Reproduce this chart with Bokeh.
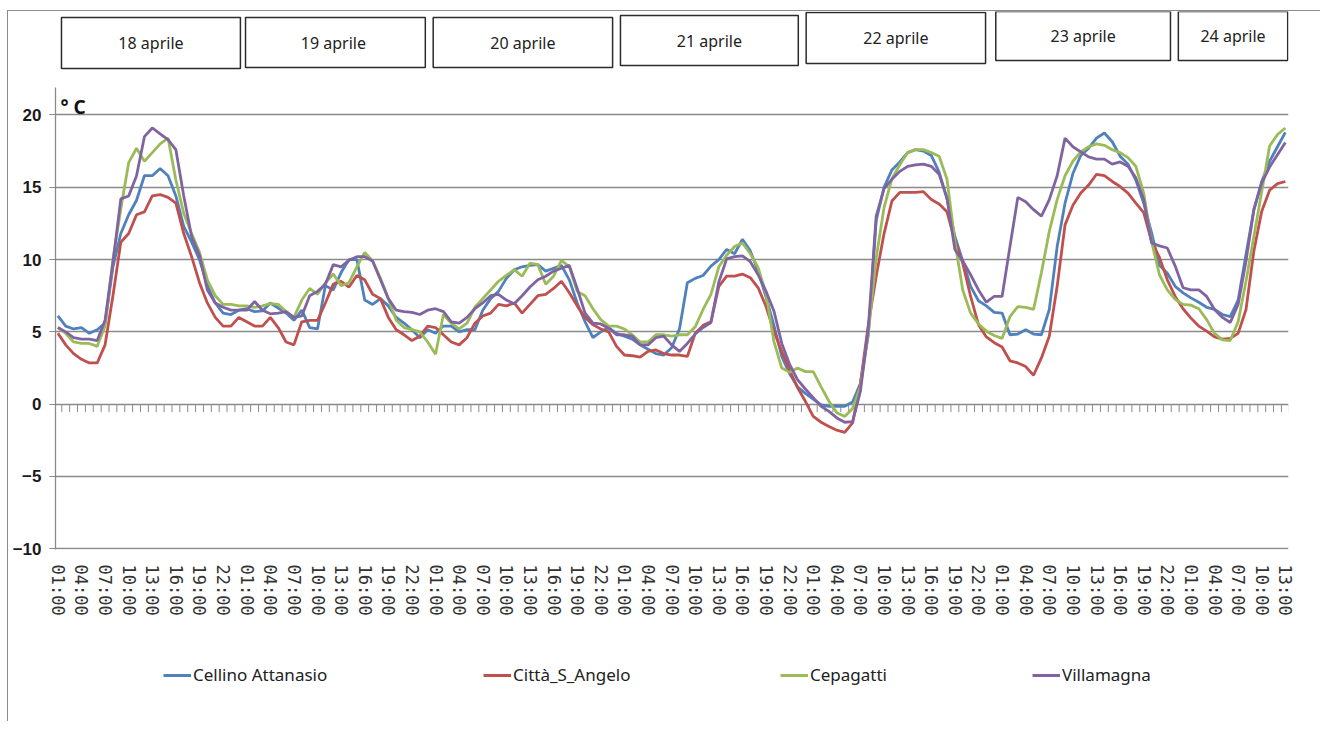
from bokeh.plotting import figure
from bokeh.models import Range1d, FixedTicker, Legend, LegendItem, Label, ColumnDataSource
from bokeh.layouts import column
from bokeh.embed import file_html
from bokeh.resources import INLINE
from bokeh.core.properties import value

# ---------------- data ----------------
days = ["18 aprile", "19  aprile", "20 aprile", "21 aprile", "22 aprile", "23 aprile", "24 aprile"]
hour_labels = ["01:00", "04:00", "07:00", "10:00", "13:00", "16:00", "19:00", "22:00"]
series_names = ["Cellino Attanasio", "Città_S_Angelo", "Cepagatti", "Villamagna"]

# hourly temperatures (°C) from 18 aprile 01:00 to 24 aprile 13:00
cellino_attanasio = [
    6.1, 5.4, 5.2, 5.3, 4.9, 5.15, 5.6, 9.5, 11.8, 13.1, 14.1, 15.8, 15.8, 16.3, 15.8, 14.4, 12.3, 11.2, 10.0, 8.2, 7.0, 6.3, 6.2, 6.5, 6.6, 6.4, 6.45,
    7.0, 6.65, 6.3, 5.8, 6.5, 5.3, 5.2, 8.2, 7.9, 9.1, 10.0, 10.0, 7.2, 6.9, 7.3, 6.8, 6.0, 5.6, 5.15, 4.6, 5.15, 4.9, 5.4, 5.4, 5.0, 5.15,
    5.15, 6.5, 7.3, 7.8, 8.7, 9.3, 9.5, 9.6, 9.65, 9.2, 9.4, 9.6, 8.6, 7.0, 5.7, 4.6, 5.0, 5.3, 4.9, 4.7, 4.5, 4.1, 3.8, 3.5, 3.4, 3.9,
    5.2, 8.4, 8.7, 8.9, 9.55, 10.0, 10.7, 10.4, 11.4, 10.6, 9.2, 7.4, 5.45, 3.3, 2.1, 1.2, 0.75, 0.35, -0.05, -0.15, -0.15, -0.15, 0.15, 1.45, 4.8, 12.7, 15.0,
    16.2, 16.75, 17.4, 17.6, 17.5, 17.2, 16.05, 14.2, 11.6, 9.9, 8.15, 7.15, 6.8, 6.35, 6.3, 4.8, 4.85, 5.15, 4.85, 4.8, 6.55, 10.9, 13.9, 15.95, 17.2, 17.7,
    18.4, 18.75, 18.15, 17.15, 16.6, 15.5, 13.9, 11.85, 9.6, 9.05, 8.15, 7.7, 7.35, 7.05, 6.7, 6.55, 6.2, 6.05, 7.2, 10.35, 13.45, 15.4, 16.8, 17.8, 18.8,
]
citta_s_angelo = [
    4.9, 4.1, 3.5, 3.1, 2.85, 2.85, 4.1, 7.5, 11.2, 11.8, 13.1, 13.3, 14.4, 14.5, 14.3, 13.9, 11.8, 10.2, 8.4, 7.0, 6.0, 5.4, 5.4, 6.0, 5.7, 5.4, 5.4,
    6.0, 5.3, 4.3, 4.1, 5.7, 5.8, 5.8, 7.0, 8.3, 8.5, 8.1, 8.9, 8.6, 7.6, 7.3, 6.0, 5.15, 4.8, 4.4, 4.7, 5.4, 5.3, 4.8, 4.3, 4.1, 4.6,
    5.6, 6.1, 6.3, 6.9, 6.8, 7.0, 6.3, 6.9, 7.5, 7.6, 8.0, 8.5, 7.7, 6.8, 6.0, 5.5, 5.2, 5.0, 4.0, 3.4, 3.35, 3.25, 3.65, 3.75, 3.5, 3.4,
    3.4, 3.3, 4.9, 5.45, 5.7, 8.15, 8.85, 8.85, 9.0, 8.75, 8.05, 6.75, 5.05, 3.65, 2.35, 1.15, 0.2, -0.85, -1.25, -1.55, -1.8, -1.95, -1.3, 1.45, 5.5, 8.85, 11.8,
    14.05, 14.65, 14.65, 14.65, 14.7, 14.15, 13.85, 13.3, 11.3, 9.75, 7.45, 5.5, 4.65, 4.25, 3.95, 3.0, 2.85, 2.6, 2.0, 3.2, 4.7, 8.15, 12.4, 13.75, 14.6, 15.15,
    15.9, 15.8, 15.4, 15.05, 14.6, 13.9, 13.25, 11.25, 10.15, 8.6, 7.45, 6.6, 5.95, 5.4, 5.05, 4.65, 4.5, 4.55, 4.9, 6.55, 10.6, 13.35, 14.8, 15.25, 15.4,
]
cepagatti = [
    5.3, 4.9, 4.3, 4.2, 4.2, 4.0, 5.4, 10.0, 13.5, 16.7, 17.7, 16.8, 17.4, 18.0, 18.4, 15.5, 13.2, 11.8, 10.5, 8.6, 7.5, 6.9, 6.9, 6.8, 6.8, 6.7, 6.8,
    6.95, 6.9, 6.4, 6.0, 7.2, 8.0, 7.6, 8.4, 9.0, 8.2, 8.4, 9.5, 10.5, 9.9, 8.7, 7.3, 5.8, 5.3, 5.15, 5.0, 4.3, 3.45, 6.2, 5.6, 5.2, 5.6,
    6.7, 7.3, 7.9, 8.5, 8.9, 9.3, 8.85, 9.75, 9.65, 8.3, 8.85, 9.95, 9.5, 7.8, 7.5, 6.6, 5.85, 5.4, 5.4, 5.2, 4.8, 4.3, 4.3, 4.8, 4.8, 4.7,
    4.8, 4.8, 5.35, 6.55, 7.6, 9.5, 10.3, 10.9, 11.15, 10.4, 9.45, 7.6, 4.35, 2.5, 2.2, 2.5, 2.25, 2.25, 1.2, 0.2, -0.6, -0.85, -0.3, 1.2, 4.9, 10.1, 13.6,
    15.6, 16.55, 17.4, 17.6, 17.6, 17.4, 17.15, 15.55, 11.25, 7.9, 6.3, 5.55, 5.05, 4.75, 4.55, 6.05, 6.75, 6.7, 6.55, 9.1, 11.95, 14.15, 15.8, 16.8, 17.45, 17.8,
    18.0, 17.9, 17.6, 17.4, 17.05, 16.45, 14.6, 11.25, 8.95, 7.9, 7.25, 6.9, 6.85, 6.6, 5.85, 4.9, 4.45, 4.4, 5.7, 8.5, 11.6, 14.7, 17.85, 18.65, 19.1,
]
villamagna = [
    5.3, 5.0, 4.6, 4.5, 4.5, 4.4, 5.8, 9.8, 14.2, 14.4, 15.8, 18.5, 19.1, 18.7, 18.3, 17.6, 14.4, 11.6, 10.3, 7.9, 7.0, 6.7, 6.5, 6.5, 6.5, 7.1, 6.5,
    6.25, 6.3, 6.4, 6.0, 6.1, 7.5, 7.8, 8.3, 9.65, 9.5, 9.95, 10.2, 10.2, 9.9, 8.6, 7.3, 6.5, 6.4, 6.35, 6.2, 6.5, 6.6, 6.4, 5.7, 5.6, 6.0,
    6.6, 7.0, 7.5, 7.6, 7.2, 6.95, 7.5, 8.1, 8.6, 8.85, 9.2, 9.4, 9.6, 8.0, 6.3, 5.6, 5.55, 5.25, 4.8, 4.8, 4.7, 4.1, 4.1, 4.6, 4.7, 4.1,
    3.65, 4.2, 4.85, 5.3, 5.65, 8.45, 10.05, 10.2, 10.25, 9.85, 8.95, 7.8, 6.45, 4.2, 2.75, 1.7, 1.05, 0.45, -0.15, -0.5, -0.95, -1.25, -1.2, 0.9, 5.25, 13.0, 14.9,
    15.55, 16.1, 16.45, 16.55, 16.6, 16.45, 15.9, 14.25, 10.7, 9.9, 8.95, 7.9, 7.05, 7.45, 7.45, 10.9, 14.3, 14.0, 13.45, 13.0, 14.15, 15.8, 18.4, 17.8, 17.45, 17.1,
    16.95, 16.95, 16.6, 16.75, 16.45, 15.65, 14.15, 11.15, 10.95, 10.8, 9.55, 8.05, 7.9, 7.9, 7.45, 6.55, 6.0, 5.65, 6.9, 9.9, 13.45, 15.3, 16.4, 17.25, 18.1,
]
all_series = [cellino_attanasio, citta_s_angelo, cepagatti, villamagna]
n_points = len(cellino_attanasio)
hours = list(range(n_points))  # hour index from 18 aprile 01:00

# ---------------- layout / style ----------------
colors = ["#4F81BD", "#C0504D", "#9BBB59", "#8064A2"]
OFF_X, OFF_Y = 7, 10          # outer chart-area border position on the page
W = 1312
BORDER_L = 55 - OFF_X - 1     # frame left at page x 55
BORDER_R = W - (1288 - OFF_X - 1)
HEADER_H = 87 - OFF_Y - 1     # header ends at page y 87
MAIN_H = 540
LEGEND_H = 94
BORDER_B = 78
X0, X1 = -0.3, 156.4
Y0, Y1 = -10.05, 21.9
GRID = "#8a8a8a"
x_range = Range1d(X0, X1)

# ---- header with day boxes (vertical unit = page pixels) ----
box_left = [0.46, 23.85, 47.7, 71.5, 95.1, 119.2, 142.4]
box_right = [23.2, 46.7, 70.5, 94.1, 117.9, 141.4, 156.3]
box_top = [17, 17, 17, 15, 12, 11, 11]
box_bottom = [68, 67, 67, 65, 63, 60, 60]
hdr = ColumnDataSource(dict(
    left=box_left, right=box_right, top=box_top, bottom=box_bottom,
    xc=[(a + b) / 2 for a, b in zip(box_left, box_right)],
    yc=[(a + b) / 2 for a, b in zip(box_top, box_bottom)],
    label=days,
))
h = figure(width=W, height=HEADER_H, x_range=x_range,
           y_range=Range1d(87, 87 - HEADER_H),
           output_backend="svg", toolbar_location=None,
           x_axis_type=None, y_axis_type=None,
           min_border_left=BORDER_L, min_border_right=BORDER_R, min_border_top=0, min_border_bottom=0)
h.outline_line_color = None
h.grid.visible = False
h.quad(left="left", right="right", top="top", bottom="bottom", source=hdr,
       fill_color="white", line_color="#2b2b2b", line_width=1.5)
h.text(x="xc", y="yc", text="label", source=hdr, text_align="center", text_baseline="middle",
       text_font=value("Noto Sans"), text_font_size="16px", text_color="#222222")

# ---- main chart ----
p = figure(width=W, height=MAIN_H, x_range=x_range, y_range=Range1d(Y0, Y1),
           output_backend="svg", toolbar_location=None,
           min_border_left=BORDER_L, min_border_right=BORDER_R,
           min_border_top=0, min_border_bottom=BORDER_B)
p.outline_line_color = None
p.xgrid.visible = False
y_ticks = [-10, -5, 0, 5, 10, 15, 20]
p.ygrid.ticker = FixedTicker(ticks=y_ticks)
p.ygrid.grid_line_color = GRID
p.ygrid.grid_line_width = 1.3

ya = p.yaxis[0]
ya.ticker = FixedTicker(ticks=y_ticks)
ya.axis_line_color = GRID
ya.axis_line_width = 1.3
ya.major_tick_line_color = GRID
ya.major_tick_out = 6
ya.major_tick_in = 0
ya.minor_tick_line_color = None
ya.major_label_text_font = "Liberation Sans"
ya.major_label_text_font_style = "bold"
ya.major_label_text_font_size = "17px"
ya.major_label_text_color = "#1a1a1a"
ya.major_label_standoff = 8

xa = p.xaxis[0]
tick_pos = list(range(0, n_points, 3))
xa.ticker = FixedTicker(ticks=tick_pos)
xa.major_label_overrides = {t: hour_labels[(t // 3) % len(hour_labels)] for t in tick_pos}
xa.major_label_orientation = "vertical"
xa.axis_line_color = None
xa.major_tick_line_color = None
xa.minor_tick_line_color = None
xa.major_label_text_font = "DejaVu Sans Mono"
xa.major_label_text_font_size = "17px"
xa.major_label_text_color = "#333333"
xa.major_label_standoff = 9

# hourly tick marks hanging from the zero line (category axis crossing at 0)
tick_x = [k + 0.5 for k in hours]
p.segment(x0=tick_x, y0=[0] * n_points, x1=tick_x, y1=[-0.55] * n_points,
          line_color=GRID, line_width=1)

for ys, col in zip(all_series, colors):
    p.line(hours, ys, line_color=col, line_width=2.8)

p.add_layout(Label(x=X0, y=Y1, x_offset=5, y_offset=-6, text="° C", text_font="Noto Sans",
                   text_font_style="bold", text_font_size="19px", text_baseline="top",
                   text_align="left", text_color="#111111"))

# ---- legend strip ----
lf = figure(width=W, height=LEGEND_H, x_range=x_range, y_range=Range1d(0, 1),
            output_backend="svg", toolbar_location=None,
            x_axis_type=None, y_axis_type=None,
            min_border_left=BORDER_L, min_border_right=BORDER_R, min_border_top=0, min_border_bottom=0)
lf.outline_line_color = None
lf.grid.visible = False
legend_x = [108, 428, 725, 977]
for col, name, lx in zip(colors, series_names, legend_x):
    # legend key only: a sample lying outside this strip's visible range
    proxy = lf.line(x=[X0, X1], y=[-5, -5], line_color=col, line_width=3)
    leg = Legend(items=[LegendItem(label=name, renderers=[proxy])], location=(lx, 35),
                 orientation="horizontal", border_line_color=None, background_fill_alpha=0,
                 padding=0, margin=0, glyph_width=28, glyph_height=20, label_standoff=2,
                 label_text_font="Noto Sans", label_text_font_size="17px", label_text_color="#222222")
    lf.add_layout(leg, "center")

layout = column(h, p, lf, styles={"margin-left": f"{OFF_X}px", "margin-top": f"{OFF_Y}px",
                                   "border-left": "1px solid #8c8c8c", "border-top": "1px solid #8c8c8c"})
open("out.html", "w").write(file_html(layout, INLINE))
